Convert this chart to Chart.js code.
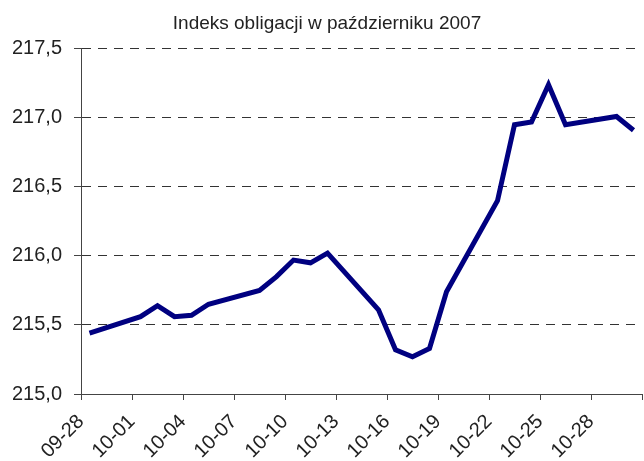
<!DOCTYPE html>
<html>
<head>
<meta charset="utf-8">
<script src="https://cdn.jsdelivr.net/npm/chart.js@4"></script>
<style>
  html, body { margin: 0; padding: 0; background: #fff; }
  #wrap { width: 644px; height: 461px; position: relative; }
</style>
</head>
<body>
<div id="wrap"><canvas id="bond-chart"></canvas></div>
<script>
// Indeks obligacji - notowania z dni roboczych
const startDate = '2007-09-28';
const dates = ['2007-09-28', '2007-10-01', '2007-10-02', '2007-10-03', '2007-10-04', '2007-10-05',
    '2007-10-08', '2007-10-09', '2007-10-10', '2007-10-11', '2007-10-12',
    '2007-10-15', '2007-10-16', '2007-10-17', '2007-10-18', '2007-10-19',
    '2007-10-22', '2007-10-23', '2007-10-24', '2007-10-25', '2007-10-26',
    '2007-10-29', '2007-10-30'];
const values = [215.44, 215.56, 215.64, 215.56, 215.57, 215.65,
    215.75, 215.85, 215.97, 215.95, 216.02,
    215.61, 215.32, 215.27, 215.33, 215.74,
    216.40, 216.95, 216.97, 217.24, 216.95,
    217.01, 216.91];
const yTicks = [215.0, 215.5, 216.0, 216.5, 217.0, 217.5];
const totalDays = 33;

const DAY = 86400000;
const t0 = Date.parse(startDate);

function dayLabel(offset) {
    const d = new Date(t0 + offset * DAY);
    const mm = String(d.getUTCMonth() + 1).padStart(2, '0');
    const dd = String(d.getUTCDate()).padStart(2, '0');
    return mm + '-' + dd;
}

// each day is one slot, the point sits in the middle of it
const points = dates.map((d, i) => ({
    x: (Date.parse(d) - t0) / DAY + 0.5,
    y: values[i]
}));

const axisColor = '#444';
const font = { family: '"Liberation Sans", Arial, sans-serif', size: 20 };

const ctx = document.getElementById('bond-chart').getContext('2d');
new Chart(ctx, {
    type: 'line',
    data: {
        datasets: [{
            label: 'Indeks obligacji',
            data: points,
            borderColor: '#000080',
            borderWidth: 5,
            pointRadius: 0,
            tension: 0,
            fill: false,
            borderJoinStyle: 'miter'
        }]
    },
    options: {
        responsive: true,
        maintainAspectRatio: false,
        animation: false,
        layout: { padding: { left: 12, right: 2, top: 0, bottom: 0 } },
        plugins: {
            legend: { display: false },
            tooltip: { enabled: false },
            title: {
                display: true,
                text: 'Indeks obligacji w październiku 2007',
                color: '#222',
                font: { family: font.family, size: 19, weight: 'normal' },
                padding: { top: 12, bottom: 14 }
            }
        },
        scales: {
            x: {
                type: 'linear',
                min: 0,
                max: totalDays,
                afterFit: (scale) => {
                    // no extra room for the (empty) last label
                    scale.paddingRight = 0;
                    scale.height = 67;
                },
                grid: {
                    drawOnChartArea: false,
                    drawTicks: true,
                    tickLength: 6,
                    tickColor: axisColor
                },
                border: { color: axisColor, width: 1 },
                ticks: {
                    stepSize: 3,
                    autoSkip: false,
                    maxRotation: 45,
                    minRotation: 45,
                    padding: 10,
                    color: '#222',
                    font: { family: font.family, size: 20 },
                    callback: (value) => value >= totalDays ? '' : dayLabel(value)
                }
            },
            y: {
                min: yTicks[0],
                max: yTicks[yTicks.length - 1],
                afterBuildTicks: (scale) => {
                    scale.ticks = yTicks.map(v => ({ value: v }));
                },
                afterFit: (scale) => {
                    scale.width = 69;
                },
                grid: {
                    color: (c) => c.tick && c.tick.value === yTicks[0] ? 'rgba(0,0,0,0)' : '#333',
                    lineWidth: 1,
                    tickLength: 7,
                    tickColor: axisColor
                },
                border: { color: axisColor, width: 1, dash: [9, 7] },
                ticks: {
                    padding: 12,
                    color: '#222',
                    font: font,
                    callback: (value) => value.toFixed(1).replace('.', ',')
                }
            }
        }
    }
});
</script>
</body>
</html>
